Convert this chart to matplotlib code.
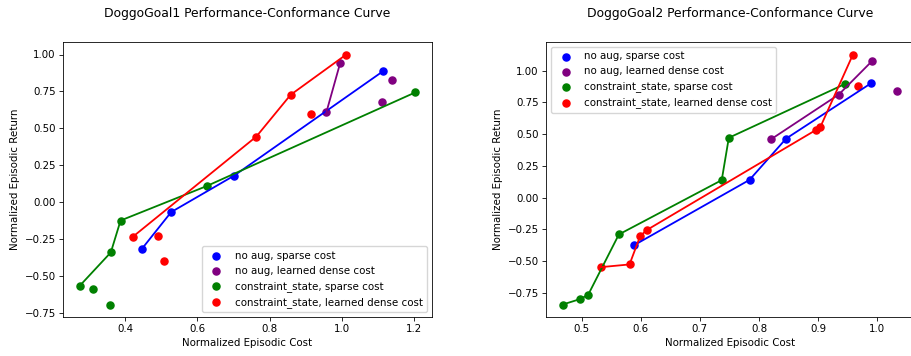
import matplotlib
matplotlib.use("Agg")
import matplotlib.pyplot as plt
import numpy as np

# ---------------- DoggoGoal1 ----------------
g1_noaug_sparse_cost = [0.446, 0.527, 0.702, 1.114]
g1_noaug_sparse_ret = [-0.317, -0.068, 0.180, 0.887]
g1_noaug_sparse_front = [1, 1, 1, 1]

g1_noaug_dense_cost = [0.957, 0.995, 1.139, 1.111]
g1_noaug_dense_ret = [0.609, 0.941, 0.828, 0.677]
g1_noaug_dense_front = [1, 1, 0, 0]

g1_cs_sparse_cost = [0.274, 0.360, 0.387, 0.625, 1.203, 0.311, 0.358]
g1_cs_sparse_ret = [-0.567, -0.341, -0.125, 0.108, 0.743, -0.588, -0.694]
g1_cs_sparse_front = [1, 1, 1, 1, 1, 0, 0]

g1_cs_dense_cost = [0.421, 0.763, 0.858, 1.012, 0.915, 0.492, 0.507]
g1_cs_dense_ret = [-0.235, 0.444, 0.727, 1.000, 0.594, -0.231, -0.396]
g1_cs_dense_front = [1, 1, 1, 1, 0, 0, 0]

# ---------------- DoggoGoal2 ----------------
g2_noaug_sparse_cost = [0.589, 0.784, 0.846, 0.989]
g2_noaug_sparse_ret = [-0.373, 0.140, 0.465, 0.898]
g2_noaug_sparse_front = [1, 1, 1, 1]

g2_noaug_dense_cost = [0.820, 0.935, 0.991, 1.034]
g2_noaug_dense_ret = [0.458, 0.811, 1.073, 0.840]
g2_noaug_dense_front = [1, 1, 1, 0]

g2_cs_sparse_cost = [0.468, 0.497, 0.511, 0.563, 0.737, 0.749, 0.946]
g2_cs_sparse_ret = [-0.840, -0.798, -0.764, -0.289, 0.138, 0.471, 0.895]
g2_cs_sparse_front = [1, 1, 1, 1, 1, 1, 1]

g2_cs_dense_cost = [0.533, 0.581, 0.599, 0.610, 0.897, 0.904, 0.959, 0.968]
g2_cs_dense_ret = [-0.546, -0.525, -0.302, -0.255, 0.534, 0.557, 1.126, 0.880]
g2_cs_dense_front = [1, 1, 1, 1, 1, 1, 1, 0]

labels = ["no aug, sparse cost", "no aug, learned dense cost",
          "constraint_state, sparse cost", "constraint_state, learned dense cost"]
colors = ["blue", "purple", "green", "red"]
titles = ["DoggoGoal1 Performance-Conformance Curve",
          "DoggoGoal2 Performance-Conformance Curve"]

panels = [
    [(g1_noaug_sparse_cost, g1_noaug_sparse_ret, g1_noaug_sparse_front),
     (g1_noaug_dense_cost, g1_noaug_dense_ret, g1_noaug_dense_front),
     (g1_cs_sparse_cost, g1_cs_sparse_ret, g1_cs_sparse_front),
     (g1_cs_dense_cost, g1_cs_dense_ret, g1_cs_dense_front)],
    [(g2_noaug_sparse_cost, g2_noaug_sparse_ret, g2_noaug_sparse_front),
     (g2_noaug_dense_cost, g2_noaug_dense_ret, g2_noaug_dense_front),
     (g2_cs_sparse_cost, g2_cs_sparse_ret, g2_cs_sparse_front),
     (g2_cs_dense_cost, g2_cs_dense_ret, g2_cs_dense_front)],
]
legend_locs = ["lower right", "upper left"]

k = 0.74
plt.rcParams.update({
    "font.size": 10 * k,
    "axes.titlesize": 12 * k,
    "axes.labelsize": 10 * k,
    "xtick.labelsize": 10 * k,
    "ytick.labelsize": 10 * k,
    "legend.fontsize": 10 * k,
    "xtick.major.size": 3.5 * k,
    "ytick.major.size": 3.5 * k,
    "xtick.major.width": 0.8 * k,
    "ytick.major.width": 0.8 * k,
    "axes.linewidth": 0.8 * k,
    "lines.linewidth": 1.3,
    "xtick.major.pad": 3.5 * k,
    "ytick.major.pad": 3.5 * k,
    "axes.labelpad": 4 * k,
})

W, H = 911, 356
fig = plt.figure(figsize=(W / 100, H / 100), dpi=100)
axes_px = [(63, 42, 432, 317), (546, 42, 914, 317)]

for p, (x0, y0, x1, y1) in enumerate(axes_px):
    ax = fig.add_axes([x0 / W, 1 - y1 / H, (x1 - x0) / W, (y1 - y0) / H])
    for (cx, ry, fr), lab, col in zip(panels[p], labels, colors):
        cx = np.array(cx); ry = np.array(ry); fr = np.array(fr, dtype=bool)
        ax.scatter(cx, ry, color=col, label=lab, s=26)
        ax.plot(cx[fr], ry[fr], color=col)
    ax.set_title(titles[p], pad=18)
    ax.set_xlabel("Normalized Episodic Cost")
    ax.set_ylabel("Normalized Episodic Return")
    ax.legend(loc=legend_locs[p])

fig.savefig("out.png", dpi=100)
